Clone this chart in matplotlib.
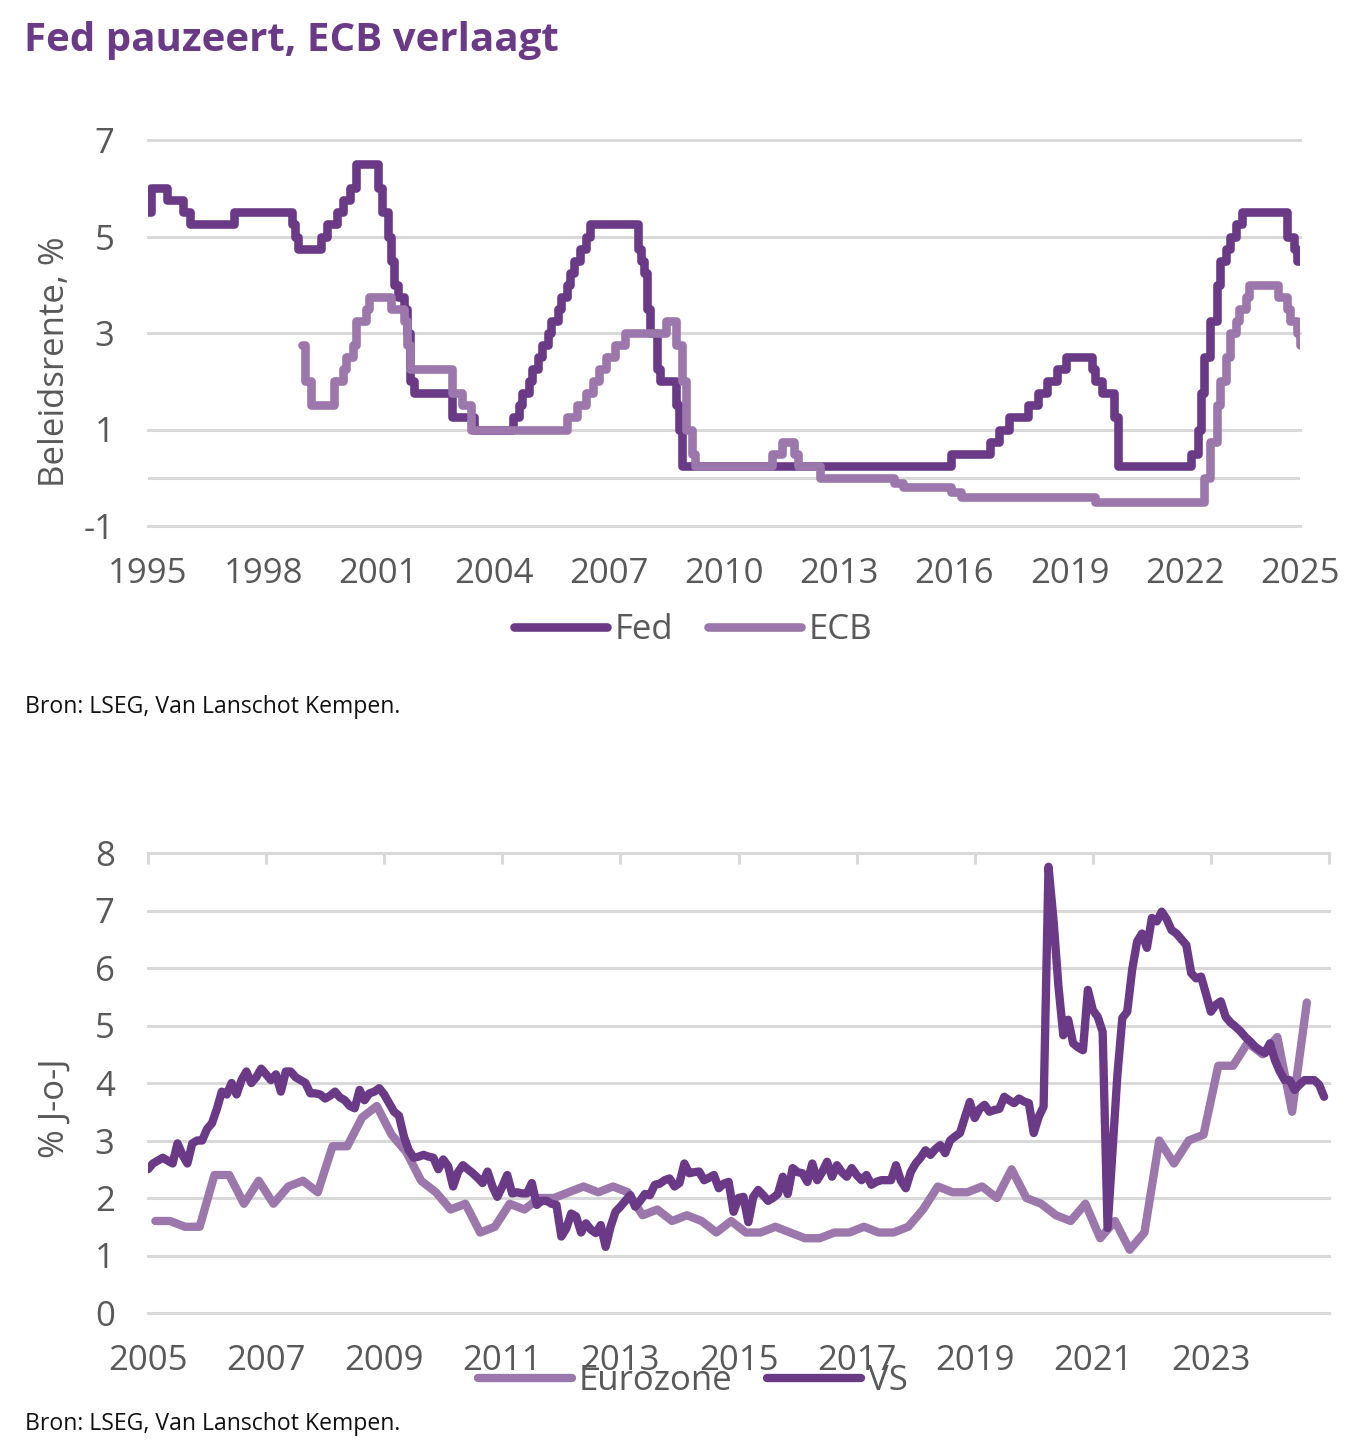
import matplotlib
matplotlib.use('Agg')
import matplotlib.pyplot as plt
import pandas as pd

plt.rcParams['font.family'] = ['Open Sans', 'DejaVu Sans']

# ---------------- data ----------------
fed_dates = ['1995-01','1995-02','1995-07','1995-12','1996-02','1997-04','1998-10','1998-11','1998-12',
             '1999-07','1999-09','1999-12','2000-02','2000-04','2000-06','2001-01','2001-02','2001-04',
             '2001-05','2001-06','2001-07','2001-09','2001-10','2001-11','2001-12','2002-12','2003-07',
             '2004-07','2004-09','2004-10','2004-12','2005-01','2005-03','2005-04','2005-06','2005-07',
             '2005-09','2005-10','2005-12','2006-01','2006-02','2006-04','2006-06','2006-07','2007-10',
             '2007-11','2007-12','2008-01','2008-02','2008-04','2008-05','2008-10','2008-11','2008-12',
             '2015-12','2016-12','2017-03','2017-06','2017-12','2018-03','2018-06','2018-09','2018-12',
             '2019-08','2019-09','2019-11','2020-03','2020-04','2022-03','2022-05','2022-06','2022-07',
             '2022-09','2022-11','2022-12','2023-02','2023-03','2023-05','2023-07','2024-09','2024-11',
             '2024-12','2025-01']
fed_rates = [5.5, 6.0, 5.75, 5.5, 5.25, 5.5, 5.25, 5.0, 4.75,
             5.0, 5.25, 5.5, 5.75, 6.0, 6.5, 6.0, 5.5, 5.0,
             4.5, 4.0, 3.75, 3.5, 3.0, 2.0, 1.75, 1.25, 1.0,
             1.25, 1.5, 1.75, 2.0, 2.25, 2.5, 2.75, 3.0, 3.25,
             3.5, 3.75, 4.0, 4.25, 4.5, 4.75, 5.0, 5.25, 4.75,
             4.5, 4.25, 3.5, 3.0, 2.25, 2.0, 1.5, 1.0, 0.25,
             0.5, 0.75, 1.0, 1.25, 1.5, 1.75, 2.0, 2.25, 2.5,
             2.25, 2.0, 1.75, 1.25, 0.25, 0.5, 1.0, 1.75, 2.5,
             3.25, 4.0, 4.5, 4.75, 5.0, 5.25, 5.5, 5.0, 4.75,
             4.5, 4.5]

ecb_dates = ['1999-01','1999-02','1999-04','1999-11','2000-02','2000-03','2000-05','2000-06','2000-09',
             '2000-10','2001-05','2001-09','2001-10','2001-11','2002-12','2003-03','2003-06','2005-12',
             '2006-03','2006-06','2006-08','2006-10','2006-12','2007-03','2007-06','2008-07','2008-10',
             '2008-12','2009-01','2009-03','2009-04','2011-04','2011-07','2011-11','2011-12','2012-07',
             '2014-06','2014-09','2015-12','2016-03','2019-09','2022-07','2022-09','2022-11','2022-12',
             '2023-02','2023-03','2023-05','2023-06','2023-08','2023-09','2024-06','2024-09','2024-10',
             '2024-12','2025-01']
ecb_rates = [2.75, 2.0, 1.5, 2.0, 2.25, 2.5, 2.75, 3.25, 3.5,
             3.75, 3.5, 3.25, 2.75, 2.25, 1.75, 1.5, 1.0, 1.25,
             1.5, 1.75, 2.0, 2.25, 2.5, 2.75, 3.0, 3.25, 2.75,
             2.0, 1.0, 0.5, 0.25, 0.5, 0.75, 0.5, 0.25, 0.0,
             -0.1, -0.2, -0.3, -0.4, -0.5, 0.0, 0.75, 1.5, 2.0,
             2.5, 3.0, 3.25, 3.5, 3.75, 4.0, 3.75, 3.5, 3.25,
             3.0, 2.75]

top_xticks = [1995, 1998, 2001, 2004, 2007, 2010, 2013, 2016, 2019, 2022, 2025]
top_yticks = [-1, 1, 3, 5, 7]

# Eurozone: quarterly, 2005Q1 onwards
euro_start = '2005Q1'
euro_wages = [1.6, 1.6, 1.5, 1.5, 2.4, 2.4, 1.9, 2.3, 1.9, 2.2, 2.3, 2.1,
              2.9, 2.9, 3.4, 3.6, 3.1, 2.8, 2.3, 2.1, 1.8, 1.9, 1.4, 1.5,
              1.9, 1.8, 2.0, 2.0, 2.1, 2.2, 2.1, 2.2, 2.1, 1.7, 1.8, 1.6,
              1.7, 1.6, 1.4, 1.6, 1.4, 1.4, 1.5, 1.4, 1.3, 1.3, 1.4, 1.4,
              1.5, 1.4, 1.4, 1.5, 1.8, 2.2, 2.1, 2.1, 2.2, 2.0, 2.5, 2.0,
              1.9, 1.7, 1.6, 1.9, 1.3, 1.6, 1.1, 1.4, 3.0, 2.6, 3.0, 3.1,
              4.3, 4.3, 4.7, 4.5, 4.8, 3.5, 5.4]

# VS: monthly, 2005-01 onwards
us_start = '2005-01'
us_wages = [2.5, 2.6, 2.65, 2.7, 2.65, 2.6, 2.95, 2.75, 2.6, 2.95, 3.0, 3.0,
            3.2, 3.3, 3.55, 3.85, 3.8, 4.0, 3.8, 4.05, 4.2, 4.0, 4.1, 4.25,
            4.15, 4.05, 4.15, 3.85, 4.2, 4.2, 4.1, 4.05, 4.0, 3.82, 3.82, 3.8,
            3.73, 3.78, 3.85, 3.75, 3.7, 3.6, 3.56, 3.88, 3.7, 3.82, 3.85, 3.91,
            3.8, 3.65, 3.5, 3.43, 3.07, 2.83, 2.7, 2.72, 2.75, 2.72, 2.7, 2.5,
            2.67, 2.55, 2.2, 2.45, 2.57, 2.5, 2.43, 2.35, 2.26, 2.46, 2.2, 2.02,
            2.2, 2.4, 2.08, 2.1, 2.08, 2.08, 2.26, 1.88, 1.95, 1.95, 1.9, 1.88,
            1.33, 1.47, 1.73, 1.68, 1.4, 1.56, 1.45, 1.39, 1.53, 1.15, 1.5, 1.76,
            1.85, 1.95, 2.05, 1.85, 1.95, 2.07, 2.05, 2.23, 2.25, 2.31, 2.34, 2.2,
            2.26, 2.6, 2.43, 2.45, 2.46, 2.31, 2.35, 2.4, 2.17, 2.25, 2.28, 1.76,
            2.0, 2.02, 1.58, 2.02, 2.14, 2.05, 1.95, 2.0, 2.07, 2.37, 2.07, 2.52,
            2.45, 2.43, 2.28, 2.6, 2.31, 2.45, 2.63, 2.37, 2.57, 2.45, 2.37, 2.52,
            2.4, 2.31, 2.4, 2.23, 2.28, 2.31, 2.31, 2.31, 2.57, 2.3, 2.17, 2.45,
            2.6, 2.7, 2.83, 2.75, 2.85, 2.92, 2.78, 3.0, 3.07, 3.13, 3.4, 3.67,
            3.39, 3.55, 3.62, 3.5, 3.53, 3.55, 3.76, 3.7, 3.65, 3.73, 3.68, 3.65,
            3.13, 3.41, 3.59, 7.76, 6.85, 5.7, 4.83, 5.1, 4.69, 4.62, 4.57, 5.62,
            5.27, 5.15, 4.89, 1.48, 2.8, 4.14, 5.13, 5.24, 5.97, 6.46, 6.6, 6.35,
            6.87, 6.81, 6.98, 6.85, 6.66, 6.6, 6.5, 6.4, 5.91, 5.82, 5.85, 5.55,
            5.24, 5.36, 5.42, 5.15, 5.05, 4.98, 4.9, 4.8, 4.72, 4.63, 4.57, 4.52,
            4.69, 4.4, 4.2, 4.05, 4.05, 3.88, 3.97, 4.05, 4.05, 4.05, 3.97, 3.76]

bottom_xticks = list(range(2005, 2026, 2))
bottom_xlabels = [str(y) for y in bottom_xticks[:-1]] + ['']
bottom_yticks = list(range(0, 9))

# ---------------- styling ----------------
DARK = '#6b3a87'
LIGHT = '#9b77ab'
GRID = '#d9d9d9'
TXT = '#595959'
W, H = 1348, 1454
FS = 25


def ym(s):
    y, m = s.split('-')
    return int(y) + (int(m) - 1) / 12


fig = plt.figure(figsize=(W / 100, H / 100), dpi=100)

# ---------------- top chart ----------------
ax1 = fig.add_axes([148 / W, 1 - 526 / H, 1152 / W, 386 / H])
l1, = ax1.plot([ym(d) for d in fed_dates], fed_rates, drawstyle='steps-post', color=DARK, lw=6.2,
               solid_joinstyle='round', solid_capstyle='round', label='Fed', zorder=3)
l2, = ax1.plot([ym(d) for d in ecb_dates], ecb_rates, drawstyle='steps-post', color=LIGHT, lw=6.2,
               solid_joinstyle='round', solid_capstyle='round', label='ECB', zorder=4)
ax1.set_xlim(1995, 2025)
ax1.set_ylim(-1, 7)
ax1.set_xticks(top_xticks)
ax1.set_xticklabels([str(t) for t in top_xticks])
ax1.set_yticks(top_yticks)
ax1.set_yticklabels([str(t) for t in top_yticks])
ax1.set_yticks([0], minor=True)
ax1.grid(axis='y', which='both', color=GRID, lw=2.2, zorder=0)
ax1.grid(axis='x', visible=False)
for s in ax1.spines.values():
    s.set_visible(False)
ax1.tick_params(axis='both', which='both', length=0, labelsize=FS, colors=TXT)
ax1.tick_params(axis='x', pad=22)
ax1.tick_params(axis='y', pad=24)
ax1.set_axisbelow(True)

fig.text(55 / W, 1 - 362 / H, 'Beleidsrente, %', rotation=90, ha='center', va='center',
         fontsize=FS, color=TXT)
fig.legend(handles=[l1, l2], loc='center', bbox_to_anchor=(0.514, 1 - 630 / H), ncol=2,
           frameon=False, handlelength=2.7, handletextpad=0.2, columnspacing=1.0,
           fontsize=FS, labelcolor=TXT)

fig.text(24 / W, 1 - 40 / H, 'Fed pauzeert, ECB verlaagt', fontsize=29, fontweight='bold',
         color=DARK, ha='left', va='center')
fig.text(25 / W, 1 - 707 / H, 'Bron: LSEG, Van Lanschot Kempen.', fontsize=16.6,
         color='#111111', ha='left', va='center')

# ---------------- bottom chart ----------------
euro_p = pd.period_range(euro_start, periods=len(euro_wages), freq='Q')
euro_x = [p.year + (p.quarter - 1) / 4 + 0.125 for p in euro_p]
us_p = pd.period_range(us_start, periods=len(us_wages), freq='M')
us_x = [p.year + (p.month - 1) / 12 for p in us_p]

ax2 = fig.add_axes([148 / W, 1 - 1313 / H, 1181 / W, 460 / H])
m1, = ax2.plot(euro_x, euro_wages, color=LIGHT, lw=6, solid_joinstyle='round',
               solid_capstyle='round', label='Eurozone', zorder=3)
m2, = ax2.plot(us_x, us_wages, color=DARK, lw=6, solid_joinstyle='round',
               solid_capstyle='round', label='VS', zorder=4)
ax2.set_xlim(2005, 2025)
ax2.set_ylim(0, 8)
ax2.set_xticks(bottom_xticks)
ax2.set_xticklabels(bottom_xlabels)
ax2.set_yticks(bottom_yticks)
ax2.grid(axis='y', color=GRID, lw=2.2, zorder=0)
for s in ax2.spines.values():
    s.set_visible(False)
ax2.tick_params(axis='y', length=0, labelsize=FS, colors=TXT, pad=24)
ax2.tick_params(axis='x', bottom=False, top=True, labelbottom=True, labeltop=False,
                direction='in', length=8, width=2.2, color=GRID, labelsize=FS,
                labelcolor=TXT, pad=22)
ax2.set_axisbelow(True)

fig.text(55 / W, 1 - 1108 / H, '% J-o-J', rotation=90, ha='center', va='center',
         fontsize=FS, color=TXT)
fig.legend(handles=[m1, m2], loc='center', bbox_to_anchor=(0.514, 1 - 1381 / H), ncol=2,
           frameon=False, handlelength=2.7, handletextpad=0.2, columnspacing=1.0,
           fontsize=FS, labelcolor=TXT)
fig.text(25 / W, 1 - 1424 / H, 'Bron: LSEG, Van Lanschot Kempen.', fontsize=16.6,
         color='#111111', ha='left', va='center')

for ax in (ax1, ax2):
    for gl in ax.yaxis.get_gridlines():
        gl.set_clip_on(False)

fig.savefig('out.png', dpi=100)
